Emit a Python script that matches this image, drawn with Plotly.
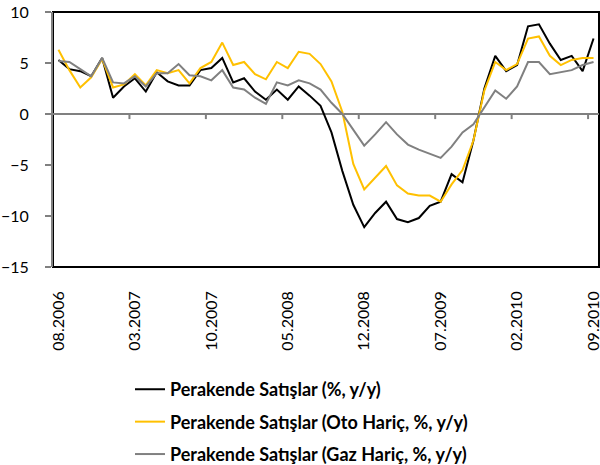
import plotly.graph_objects as go

# Monthly categories 08.2006 .. 09.2010
months = []
for y in range(2006, 2011):
    for m in range(1, 13):
        if (y == 2006 and m < 8) or (y == 2010 and m > 9):
            continue
        months.append(f"{m:02d}.{y}")

tick_labels = ["08.2006", "03.2007", "10.2007", "05.2008", "12.2008", "07.2009", "02.2010", "09.2010"]

series_names = [
    "Perakende Satışlar (%, y/y)",
    "Perakende Satışlar (Oto Hariç, %, y/y)",
    "Perakende Satışlar (Gaz Hariç, %, y/y)",
]

total = [5.3, 4.4, 4.2, 3.7, 5.5, 1.6, 2.7, 3.5, 2.2, 4.1,
         3.2, 2.8, 2.8, 4.3, 4.5, 5.5, 3.1, 3.5, 2.2, 1.4,
         2.4, 1.4, 2.7, 1.8, 0.8, -1.8, -5.6, -8.9, -11.1, -9.7,
         -8.6, -10.3, -10.6, -10.2, -9.0, -8.6, -5.9, -6.7, -2.6, 2.5,
         5.7, 4.2, 4.8, 8.6, 8.8, 6.9, 5.3, 5.7, 4.2, 7.4]

ex_auto = [6.3, 4.3, 2.6, 3.6, 5.4, 2.6, 2.9, 3.9, 2.8, 4.3,
           4.0, 4.3, 3.0, 4.5, 5.1, 7.0, 4.8, 5.1, 3.9, 3.4,
           5.1, 4.5, 6.1, 5.9, 4.9, 3.2, 0.2, -4.9, -7.4, -6.2,
           -5.1, -7.0, -7.8, -8.0, -8.0, -8.6, -6.9, -5.5, -2.6, 2.3,
           5.1, 4.3, 4.9, 7.4, 7.6, 5.7, 4.8, 5.3, 5.5, 5.5]

ex_gas = [5.2, 5.1, 4.4, 3.7, 5.5, 3.1, 3.0, 3.7, 2.7, 4.0,
          4.0, 4.9, 3.8, 3.7, 3.3, 4.3, 2.6, 2.4, 1.6, 1.0,
          3.1, 2.8, 3.3, 3.0, 2.4, 1.1, 0.0, -1.5, -3.1, -2.0,
          -0.8, -2.0, -3.0, -3.5, -3.9, -4.3, -3.2, -1.8, -1.0, 0.7,
          2.3, 1.5, 2.7, 5.1, 5.1, 3.9, 4.1, 4.3, 4.8, 5.1]

colors = ["#000000", "#FFC000", "#808080"]
values = [total, ex_auto, ex_gas]

fig = go.Figure()
for i, (name, vals, col) in enumerate(zip(series_names, values, colors)):
    fig.add_trace(go.Scatter(
        x=months, y=vals, mode="lines", name=name,
        line=dict(color=col, width=2),
        legendgroup=f"g{i}",
    ))

# category-boundary tick marks on the zero line (every 7 months)
step = 7
shapes = [dict(type="rect", xref="paper", yref="paper", x0=0, x1=1, y0=0, y1=1,
               line=dict(color="black", width=2), layer="below")]
for k in range(step, len(months) + 1, step):
    shapes.append(dict(type="line", xref="x", yref="y", x0=k - 0.5, x1=k - 0.5,
                       y0=0, y1=-0.5, line=dict(color="#808080", width=2)))

fig.update_layout(
    width=600, height=465,
    margin=dict(l=53, r=1, t=12, b=198, autoexpand=False),
    paper_bgcolor="white", plot_bgcolor="white",
    font=dict(family="Lato", size=16, color="black"),
    showlegend=True,
    legend=dict(
        x=0.141, y=-0.408, xanchor="left", yanchor="top",
        traceorder="grouped", tracegroupgap=6,
        font=dict(family="Lato", size=18, color="black", weight="bold"),
        bgcolor="rgba(0,0,0,0)",
    ),
    shapes=shapes,
    xaxis=dict(
        type="category", range=[-0.5, len(months) - 0.5],
        tickmode="array", tickvals=tick_labels, ticktext=tick_labels,
        tickangle=-90, ticks="", showgrid=False, showline=False, zeroline=False,
        ticklabelstandoff=20, ticklabeloverflow="allow", automargin=False,
    ),
    yaxis=dict(
        range=[-15, 10], tickvals=[-15, -10, -5, 0, 5, 10],
        ticks="outside", ticklen=6, tickwidth=2, tickcolor="#808080",
        showline=True, linecolor="#808080", linewidth=2,
        showgrid=False, zeroline=True, zerolinecolor="#808080", zerolinewidth=2,
        ticklabelstandoff=13, automargin=False,
    ),
)

# remove the browser's default 8px body margin so the figure sits at (0, 0)
fig.write_html("out.html", config={"displayModeBar": False},
               post_script="document.body.style.margin='0px';")
